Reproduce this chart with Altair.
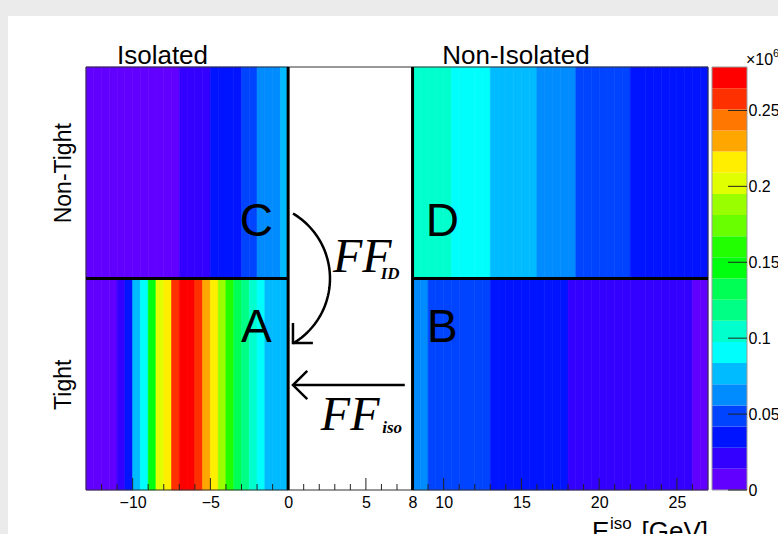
import altair as alt
import numpy as np
import pandas as pd

# ---------------------------------------------------------------- data
BIN = 0.5                 # GeV per bin
ISO_START = -13.0         # first bin edge of the isolated region
NONISO_START = 8.0        # first bin edge of the non-isolated region
X_MIN, X_MAX = -13, 27
Z_MAX = 278600            # colour scale maximum (entries)
N_LEVELS = 20

# entries per 0.5 GeV bin, isolated region (-13 .. 0 GeV)
tight_iso = [4000, 5000, 7000, 10000, 20000, 35000, 76000, 90000, 145000,
             200000, 215000, 255000, 272000, 278600, 258000, 230000, 212000,
             187000, 160000, 132000, 118000, 104000, 90000, 80000, 76000, 73000]
nontight_iso = [2000, 2500, 3000, 3500, 4000, 5000, 6000, 7000, 8500, 10000,
                11500, 13000, 16000, 19000, 22000, 26000, 29000, 32000, 36000,
                40000, 46000, 53000, 58000, 63000, 68000, 75000]

# entries per 0.5 GeV bin, non-isolated region (8 .. 27 GeV)
tight_noniso = [60000, 57000, 55000, 53000, 51000, 49000, 47000, 45500, 44000,
                42500, 41000, 39500, 38000, 36500, 35000, 33500, 32500, 31000,
                30000, 29000, 27000, 26000, 25000, 24000, 23000, 22000, 21000,
                20000, 19500, 19000, 18000, 17500, 17000, 16000, 15000, 14000,
                13000, 12000]
nontight_noniso = [110000, 108000, 105000, 102000, 99000, 96000, 93000, 90000,
                   87000, 85000, 83000, 81000, 78000, 75000, 73000, 70500,
                   69000, 65000, 62000, 59000, 56000, 55000, 53000, 51000,
                   49000, 47000, 45000, 43000, 41000, 39000, 37500, 36000,
                   34500, 33000, 32000, 31000, 30000, 29000]

row_names = ["Tight", "Non-Tight"]
x_tick_labels = [-10, -5, 0, 5, 8, 10, 15, 20, 25]
x_major_ticks = [-10, -5, 0, 5, 10, 15, 20, 25]
x_minor_ticks = [v for v in range(-12, 27) if v % 5 != 0]
z_tick_values = [0, 50000, 100000, 150000, 200000, 250000]

# violet -> red rainbow, one colour per contour level
palette = ["#6200ff", "#3300ff", "#0014ff", "#0044ff", "#008bff", "#00bbff",
           "#00fffc", "#00ffcc", "#00ff85", "#00ff55", "#00ff0e", "#22ff00",
           "#69ff00", "#99ff00", "#e0ff00", "#ffee00", "#ffa700", "#ff7700",
           "#ff3000", "#ff0000"]


def region(values, start, row):
    lo = start + BIN * np.arange(len(values))
    return pd.DataFrame({"x": lo, "x2": lo + BIN, "y": row, "y2": row + 1,
                         "v": values})


cells = pd.concat([
    region(tight_iso, ISO_START, 0),
    region(nontight_iso, ISO_START, 1),
    region(tight_noniso, NONISO_START, 0),
    region(nontight_noniso, NONISO_START, 1),
], ignore_index=True)

levels = np.linspace(0, Z_MAX, N_LEVELS + 1)
bands = pd.DataFrame({"lo": levels[:-1], "hi": levels[1:], "c": palette})

# ---------------------------------------------------------------- scales
W, H = 622, 423
FONT = "Liberation Sans"
SERIF = "Liberation Serif"
LABEL_SIZE = 16

xs = alt.Scale(domain=[X_MIN, X_MAX], nice=False, zero=False)
ys = alt.Scale(domain=[0, 2], nice=False, zero=False)
zs = alt.Scale(type="threshold", domain=list(levels[1:N_LEVELS]), range=palette)
cs = alt.Scale(domain=[0, Z_MAX], nice=False, zero=False)

one = pd.DataFrame({"k": [0]})

# grey strips of the canvas border
strips = alt.Chart(one).mark_rect(color="#ebebeb").encode(
    x=alt.value(-86), x2=alt.value(692), y=alt.value(-67), y2=alt.value(-51)
)
strip_left = alt.Chart(one).mark_rect(color="#ebebeb").encode(
    x=alt.value(-86), x2=alt.value(-78), y=alt.value(-67), y2=alt.value(H + 44)
)

heat = alt.Chart(cells).mark_rect(strokeWidth=0.6).encode(
    x=alt.X("x:Q", scale=xs, axis=alt.Axis(
        values=x_tick_labels, format="d", ticks=False, tickSize=0, domain=False,
        grid=False, title=None, labelFontSize=LABEL_SIZE, labelPadding=4,
        labelFlush=False, labelOverlap=False, labelColor="black", zindex=1)),
    x2="x2:Q",
    y=alt.Y("y:Q", scale=ys, axis=alt.Axis(
        values=[0.5, 1.5],
        labelExpr="datum.value < 1 ? '%s' : '%s'" % tuple(row_names),
        labelAngle=270, labelAlign="center", labelBaseline="alphabetic",
        labelFontSize=23, labelPadding=16, ticks=False, tickSize=0,
        domain=False, grid=False, title=None, labelColor="black",
        labelFlush=False, labelOverlap=False, zindex=1)),
    y2="y2:Q",
    color=alt.Color("v:Q", scale=zs, legend=None),
    stroke=alt.Stroke("v:Q", scale=zs, legend=None),
)

frame = alt.Chart(pd.DataFrame({"x": [X_MIN], "x2": [X_MAX], "y": [0], "y2": [2]})).mark_rect(
    filled=False, stroke="#333333", strokeWidth=1
).encode(x=alt.X("x:Q", scale=xs), x2="x2:Q", y=alt.Y("y:Q", scale=ys), y2="y2:Q")

major = alt.Chart(pd.DataFrame({"x": x_major_ticks})).mark_rule(color="#222222", strokeWidth=1).encode(
    x=alt.X("x:Q", scale=xs), y=alt.value(H), y2=alt.value(H - 12)
)
minor = alt.Chart(pd.DataFrame({"x": x_minor_ticks})).mark_rule(color="#222222", strokeWidth=1).encode(
    x=alt.X("x:Q", scale=xs), y=alt.value(H), y2=alt.value(H - 6)
)

# region boundaries
vsep = alt.Chart(pd.DataFrame({"x": [0.0, 8.0]})).mark_rule(color="black", strokeWidth=3).encode(
    x=alt.X("x:Q", scale=xs)
)
hsep = alt.Chart(pd.DataFrame({"x": [X_MIN, 8], "x2": [0, X_MAX], "y": [1, 1]})).mark_rule(
    color="black", strokeWidth=3
).encode(x=alt.X("x:Q", scale=xs), x2="x2:Q", y=alt.Y("y:Q", scale=ys))

# region letters
letters = alt.Chart(pd.DataFrame({
    "t": ["A", "B", "C", "D"],
    "x": [-2.05, 9.92, -2.05, 9.92],
    "y": [0.70, 0.70, 1.20, 1.20],
})).mark_text(font=FONT, fontSize=46, align="center", baseline="alphabetic", color="black").encode(
    x=alt.X("x:Q", scale=xs), y=alt.Y("y:Q", scale=ys), text="t:N"
)

headers = alt.Chart(pd.DataFrame({
    "t": ["Isolated", "Non-Isolated"], "x": [-8.08, 14.65]
})).mark_text(font=FONT, fontSize=26, align="center", baseline="alphabetic", color="black").encode(
    x=alt.X("x:Q", scale=xs), y=alt.value(-3), text="t:N"
)

# fake-factor labels
ff_big = alt.Chart(pd.DataFrame({"t": ["FF", "FF"], "x": [2.88, 2.10], "y": [1.031, 0.284]})).mark_text(
    font=SERIF, fontSize=48, fontStyle="italic", align="left", baseline="alphabetic", color="black"
).encode(x=alt.X("x:Q", scale=xs), y=alt.Y("y:Q", scale=ys), text="t:N")
ff_sub = alt.Chart(pd.DataFrame({"t": ["ID", "iso"], "x": [5.95, 6.05], "y": [1.0, 0.27]})).mark_text(
    font=SERIF, fontSize=17, fontStyle="italic", fontWeight="bold", align="left",
    baseline="alphabetic", color="black"
).encode(x=alt.X("x:Q", scale=xs), y=alt.Y("y:Q", scale=ys), text="t:N")

# arrows: C -> A (arc) and B -> A (straight), open heads
theta = np.linspace(np.radians(59.3), np.radians(-59.3), 60)
arc = pd.DataFrame({"x": -2.17 + 4.86 * np.cos(theta), "y": 1.0 + 0.3574 * np.sin(theta),
                    "seg": "arc", "k": np.arange(len(theta))})
heads = pd.DataFrame({
    "x": [1.59, 0.31, 0.31, 1.23, 0.31, 1.23, 7.5, 0.31],
    "y": [0.695, 0.695, 0.79, 0.563, 0.496, 0.430, 0.496, 0.496],
    "seg": ["h1", "h1", "h1", "h2", "h2", "h2", "line", "line"],
    "k": [0, 1, 2, 0, 1, 2, 0, 1],
})
paths = pd.concat([arc, heads], ignore_index=True)
arrows = alt.Chart(paths).mark_line(color="black", strokeWidth=2.5, strokeJoin="miter").encode(
    x=alt.X("x:Q", scale=xs), y=alt.Y("y:Q", scale=ys), detail="seg:N", order="k:Q"
)

# axis title
t_e = alt.Chart(one).mark_text(font=FONT, fontSize=26, align="left", baseline="alphabetic", text="E").encode(
    x=alt.value(506), y=alt.value(473))
t_iso = alt.Chart(one).mark_text(font=FONT, fontSize=17, align="left", baseline="alphabetic", text="iso").encode(
    x=alt.value(524), y=alt.value(462))
t_t = alt.Chart(one).mark_text(font=FONT, fontSize=17, align="left", baseline="alphabetic", text="T").encode(
    x=alt.value(522), y=alt.value(483))
t_gev = alt.Chart(one).mark_text(font=FONT, fontSize=26, align="right", baseline="alphabetic", text="[GeV]").encode(
    x=alt.value(W), y=alt.value(473))

main = alt.layer(strips, strip_left, heat, frame, major, minor, vsep, hsep, letters, headers,
                 ff_big, ff_sub, arrows, t_e, t_iso, t_t, t_gev)

# ---------------------------------------------------------------- colour bar
CB_X0, CB_X1 = 626, 661
cbar_rects = alt.Chart(bands).mark_rect().encode(
    x=alt.value(CB_X0), x2=alt.value(CB_X1),
    y=alt.Y("lo:Q", scale=cs, axis=alt.Axis(
        orient="right", values=z_tick_values, labelExpr="datum.value / 1000000",
        offset=CB_X1 - W, labelPadding=1, ticks=False, tickSize=0, domain=False,
        grid=False, title=None, labelFontSize=LABEL_SIZE, labelBaseline="middle",
        labelFlush=False, labelOverlap=False, labelColor="black", zindex=1)),
    y2="hi:Q",
    color=alt.Color("c:N", scale=None),
)
cbar_frame = alt.Chart(pd.DataFrame({"lo": [0], "hi": [Z_MAX]})).mark_rect(
    filled=False, stroke="#999999", strokeWidth=1
).encode(x=alt.value(CB_X0), x2=alt.value(CB_X1), y=alt.Y("lo:Q", scale=cs), y2="hi:Q")
cbar_ticks = alt.Chart(pd.DataFrame({"lo": z_tick_values})).mark_rule(color="#222222", strokeWidth=1).encode(
    x=alt.value(CB_X1 - 19), x2=alt.value(CB_X1), y=alt.Y("lo:Q", scale=cs)
)
cbar_exp = alt.Chart(one).mark_text(font=FONT, fontSize=16, align="left", baseline="alphabetic", text="×10").encode(
    x=alt.value(660), y=alt.value(-2))
cbar_exp6 = alt.Chart(one).mark_text(font=FONT, fontSize=11, align="left", baseline="alphabetic", text="6").encode(
    x=alt.value(687), y=alt.value(-10))

cbar = alt.layer(cbar_rects, cbar_frame, cbar_ticks, cbar_exp, cbar_exp6)

chart = alt.layer(main, cbar).resolve_scale(y="independent", color="independent", stroke="independent").properties(
    width=W, height=H,
    autosize=alt.AutoSizeParams(type="none"),
    padding={"left": 86, "top": 67, "right": 70, "bottom": 44},
    background="white",
).configure_view(strokeWidth=0).configure_axis(labelFont=FONT).configure_text(font=FONT)

chart.save("out.html", embed_options={"renderer": "svg", "actions": False})
